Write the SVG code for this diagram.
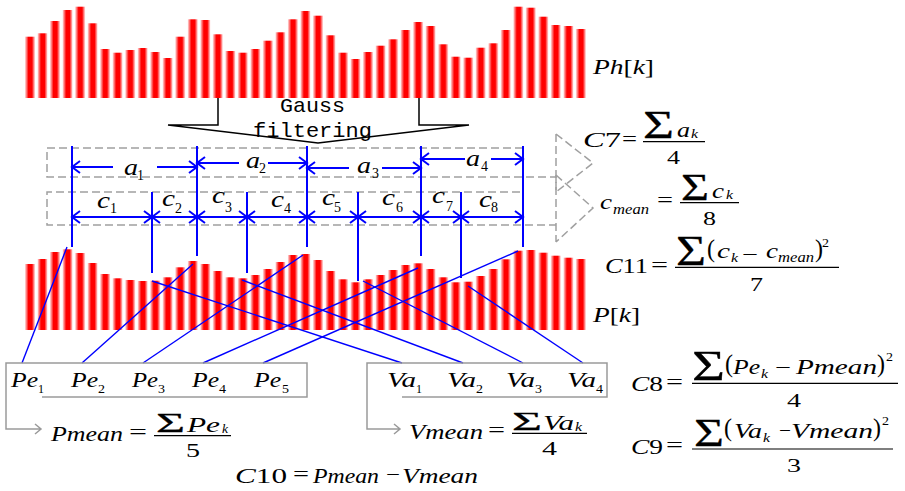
<svg xmlns="http://www.w3.org/2000/svg" width="905" height="491" viewBox="0 0 905 491">
<defs>
<linearGradient id="g" x1="0" y1="0" x2="1" y2="0">
<stop offset="0" stop-color="#ffe0e0"/>
<stop offset="0.35" stop-color="#ff0000"/>
<stop offset="0.7" stop-color="#ff0000"/>
<stop offset="1" stop-color="#ffe0e0"/>
</linearGradient>
</defs>
<style>
.bars rect { fill: url(#g); }
.bl { stroke:#0000ff; stroke-width:2; fill:none; }
.dg { stroke:#0000ff; stroke-width:1.4; fill:none; }
.gr { stroke:#9a9a9a; stroke-width:1.5; fill:none; }
.dash { stroke:#a0a0a0; stroke-width:1.5; fill:none; stroke-dasharray:8 4; }
.blk { stroke:#000; stroke-width:1.5; fill:none; }
.fl { stroke:#000; stroke-width:1.2; }
text { font-family:"Liberation Serif","Times New Roman",serif; fill:#000; }
.i { font-style:italic; }
.s { stroke:#000; stroke-width:0.3; }
.mono { font-family:"Liberation Mono","Courier New",monospace; }
</style>
<rect width="905" height="491" fill="#fff"/>

<g id="hist-top" class="bars">
<rect x="25" y="36.7" width="10" height="61.3"/><rect x="37.5" y="33.3" width="10" height="64.7"/><rect x="50" y="21" width="10" height="77"/><rect x="62.6" y="10" width="10" height="88"/><rect x="75.1" y="6.7" width="10" height="91.3"/><rect x="87.6" y="23.3" width="10" height="74.7"/><rect x="100.1" y="49" width="10" height="49"/><rect x="112.6" y="52.7" width="10" height="45.3"/><rect x="125.2" y="50" width="10" height="48"/><rect x="137.7" y="48" width="10" height="50"/><rect x="150.2" y="52" width="10" height="46"/><rect x="162.7" y="58" width="10" height="40"/><rect x="175.2" y="36.7" width="10" height="61.3"/><rect x="187.8" y="19.3" width="10" height="78.7"/><rect x="200.3" y="20" width="10" height="78"/><rect x="212.8" y="34.3" width="10" height="63.7"/><rect x="225.3" y="51" width="10" height="47"/><rect x="237.8" y="52.7" width="10" height="45.3"/><rect x="250.4" y="49" width="10" height="49"/><rect x="262.9" y="40.7" width="10" height="57.3"/><rect x="275.4" y="32.3" width="10" height="65.7"/><rect x="287.9" y="19.3" width="10" height="78.7"/><rect x="300.4" y="11" width="10" height="87"/><rect x="313" y="15.7" width="10" height="82.3"/><rect x="325.5" y="35.3" width="10" height="62.7"/><rect x="338" y="52.7" width="10" height="45.3"/><rect x="350.5" y="59" width="10" height="39"/><rect x="363" y="52" width="10" height="46"/><rect x="375.6" y="45.7" width="10" height="52.3"/><rect x="388.1" y="39.3" width="10" height="58.7"/><rect x="400.6" y="30" width="10" height="68"/><rect x="413.1" y="22" width="10" height="76"/><rect x="425.6" y="26" width="10" height="72"/><rect x="438.2" y="44.3" width="10" height="53.7"/><rect x="450.7" y="56.7" width="10" height="41.3"/><rect x="463.2" y="57.7" width="10" height="40.3"/><rect x="475.7" y="47.7" width="10" height="50.3"/><rect x="488.3" y="43.3" width="10" height="54.7"/><rect x="500.8" y="30" width="10" height="68"/><rect x="513.3" y="6.7" width="10" height="91.3"/><rect x="525.8" y="7.7" width="10" height="90.3"/><rect x="538.3" y="16.7" width="10" height="81.3"/><rect x="550.8" y="25" width="10" height="73"/><rect x="563.4" y="26" width="10" height="72"/><rect x="575.9" y="29" width="10" height="69"/>
</g>
<g id="label-ph">
<text x="593" y="74" font-size="22" textLength="61" lengthAdjust="spacingAndGlyphs"><tspan class="i">Ph</tspan>[<tspan class="i">k</tspan>]</text>
</g>

<g id="gauss">
<polyline class="blk" points="218,98 218,125 168,125 318,143 469,125 419,125 419,98"/>
<text class="mono" x="280" y="112" font-size="21" textLength="65" lengthAdjust="spacingAndGlyphs">Gauss</text>
<text class="mono" x="253" y="137" font-size="21" textLength="119" lengthAdjust="spacingAndGlyphs">filtering</text>
</g>

<g id="band-a">
<path class="dash" d="M523,148 H47 V177 H556"/>
<path class="dash" d="M556,134 V192 M556,134 L593,163 L556,192"/>
</g>
<g id="band-c">
<path class="dash" d="M520,192 H47 V225 H556"/>
<path class="dash" d="M556,175 V242 M556,175 L593,208 L556,242"/>
</g>

<g id="hist-bottom" class="bars">
<rect x="25" y="264" width="10" height="66"/><rect x="37.5" y="259" width="10" height="71"/><rect x="50" y="252" width="10" height="78"/><rect x="62.6" y="249.3" width="10" height="80.7"/><rect x="75.1" y="253" width="10" height="77"/><rect x="87.6" y="263" width="10" height="67"/><rect x="100.1" y="274" width="10" height="56"/><rect x="112.6" y="278.3" width="10" height="51.7"/><rect x="125.2" y="280" width="10" height="50"/><rect x="137.7" y="281" width="10" height="49"/><rect x="150.2" y="280.7" width="10" height="49.3"/><rect x="162.7" y="277.3" width="10" height="52.7"/><rect x="175.2" y="267.3" width="10" height="62.7"/><rect x="187.8" y="261" width="10" height="69"/><rect x="200.3" y="264" width="10" height="66"/><rect x="212.8" y="271" width="10" height="59"/><rect x="225.3" y="277.3" width="10" height="52.7"/><rect x="237.8" y="278.3" width="10" height="51.7"/><rect x="250.4" y="275" width="10" height="55"/><rect x="262.9" y="269" width="10" height="61"/><rect x="275.4" y="262" width="10" height="68"/><rect x="287.9" y="255" width="10" height="75"/><rect x="300.4" y="254" width="10" height="76"/><rect x="313" y="260" width="10" height="70"/><rect x="325.5" y="271" width="10" height="59"/><rect x="338" y="279.3" width="10" height="50.7"/><rect x="350.5" y="282.3" width="10" height="47.7"/><rect x="363" y="279.3" width="10" height="50.7"/><rect x="375.6" y="275" width="10" height="55"/><rect x="388.1" y="270" width="10" height="60"/><rect x="400.6" y="265" width="10" height="65"/><rect x="413.1" y="263.3" width="10" height="66.7"/><rect x="425.6" y="269" width="10" height="61"/><rect x="438.2" y="277.3" width="10" height="52.7"/><rect x="450.7" y="282.3" width="10" height="47.7"/><rect x="463.2" y="281.7" width="10" height="48.3"/><rect x="475.7" y="276" width="10" height="54"/><rect x="488.3" y="269" width="10" height="61"/><rect x="500.8" y="259.3" width="10" height="70.7"/><rect x="513.3" y="250.7" width="10" height="79.3"/><rect x="525.8" y="250" width="10" height="80"/><rect x="538.3" y="252.7" width="10" height="77.3"/><rect x="550.8" y="255.7" width="10" height="74.3"/><rect x="563.4" y="257.7" width="10" height="72.3"/><rect x="575.9" y="259" width="10" height="71"/>
</g>
<g id="label-p">
<text x="593" y="322" font-size="22" textLength="47" lengthAdjust="spacingAndGlyphs"><tspan class="i">P</tspan>[<tspan class="i">k</tspan>]</text>
</g>

<g id="connectors">
<path class="bl" d="M72,146 V247 M152,192 V273 M197,146 V256 M247,192 V273 M307,146 V247 M358,192 V281 M421,146 V256 M461,192 V278 M523,146 V247"/>
<path class="bl" d="M72,167 H113 M157,167 H197 M80,161 L72,167 L80,173 M189,161 L197,167 L189,173"/>
<path class="bl" d="M197,163 H239 M268,163 H307 M205,157 L197,163 L205,169 M299,157 L307,163 L299,169"/>
<path class="bl" d="M307,168 H349 M382,168 H421 M315,162 L307,168 L315,174 M413,162 L421,168 L413,174"/>
<path class="bl" d="M421,159 H465 M491,159 H523 M429,153 L421,159 L429,165 M515,153 L523,159 L515,165"/>
<path class="bl" d="M72,217 H523
M80,211 L72,217 L80,223
M144,211 L152,217 L144,223 M160,211 L152,217 L160,223
M189,211 L197,217 L189,223 M205,211 L197,217 L205,223
M239,211 L247,217 L239,223 M255,211 L247,217 L255,223
M299,211 L307,217 L299,223 M315,211 L307,217 L315,223
M350,211 L358,217 L350,223 M366,211 L358,217 L366,223
M413,211 L421,217 L413,223 M429,211 L421,217 L429,223
M453,211 L461,217 L453,223 M469,211 L461,217 L469,223
M515,211 L523,217 L515,223"/>
<line class="dg" x1="67" y1="247" x2="22" y2="363"/>
<line class="dg" x1="193" y1="264" x2="82" y2="363"/>
<line class="dg" x1="303" y1="255" x2="143" y2="363"/>
<line class="dg" x1="418" y1="268" x2="203" y2="363"/>
<line class="dg" x1="518" y1="251" x2="263" y2="363"/>
<line class="dg" x1="152" y1="281" x2="402" y2="363"/>
<line class="dg" x1="242" y1="280" x2="463" y2="363"/>
<line class="dg" x1="363" y1="281" x2="523" y2="363"/>
<line class="dg" x1="468" y1="286" x2="583" y2="363"/>
<path class="gr" d="M42,397 H307 V363 H6 V429 H41 M35,424 L41,429 L35,434"/>
<path class="gr" d="M402,397 H607 V363 H367 V429 H400 M394,424 L400,429 L394,434"/>
</g>

<g id="dim-labels">
<text class="i" x="124" y="175" font-size="24" textLength="14" lengthAdjust="spacingAndGlyphs">a</text><text x="137" y="180" font-size="14" textLength="7" lengthAdjust="spacingAndGlyphs">1</text>
<text class="i" x="246" y="168" font-size="24" textLength="14" lengthAdjust="spacingAndGlyphs">a</text><text x="259" y="173" font-size="14" textLength="7" lengthAdjust="spacingAndGlyphs">2</text>
<text class="i" x="357" y="173" font-size="24" textLength="14" lengthAdjust="spacingAndGlyphs">a</text><text x="372" y="178" font-size="14" textLength="7" lengthAdjust="spacingAndGlyphs">3</text>
<text class="i" x="466" y="166" font-size="24" textLength="14" lengthAdjust="spacingAndGlyphs">a</text><text x="481" y="171" font-size="14" textLength="7" lengthAdjust="spacingAndGlyphs">4</text>
<text class="i" x="97" y="208" font-size="24" textLength="13" lengthAdjust="spacingAndGlyphs">c</text><text x="110" y="213" font-size="14" textLength="7" lengthAdjust="spacingAndGlyphs">1</text>
<text class="i" x="162" y="206" font-size="24" textLength="13" lengthAdjust="spacingAndGlyphs">c</text><text x="175" y="213" font-size="14" textLength="7" lengthAdjust="spacingAndGlyphs">2</text>
<text class="i" x="212" y="203" font-size="24" textLength="13" lengthAdjust="spacingAndGlyphs">c</text><text x="225" y="212" font-size="14" textLength="7" lengthAdjust="spacingAndGlyphs">3</text>
<text class="i" x="271" y="207" font-size="24" textLength="13" lengthAdjust="spacingAndGlyphs">c</text><text x="284" y="213" font-size="14" textLength="7" lengthAdjust="spacingAndGlyphs">4</text>
<text class="i" x="322" y="205" font-size="24" textLength="13" lengthAdjust="spacingAndGlyphs">c</text><text x="334" y="212" font-size="14" textLength="7" lengthAdjust="spacingAndGlyphs">5</text>
<text class="i" x="382" y="205" font-size="24" textLength="13" lengthAdjust="spacingAndGlyphs">c</text><text x="396" y="212" font-size="14" textLength="7" lengthAdjust="spacingAndGlyphs">6</text>
<text class="i" x="432" y="203" font-size="24" textLength="13" lengthAdjust="spacingAndGlyphs">c</text><text x="446" y="211" font-size="14" textLength="7" lengthAdjust="spacingAndGlyphs">7</text>
<text class="i" x="479" y="207" font-size="24" textLength="13" lengthAdjust="spacingAndGlyphs">c</text><text x="491" y="212" font-size="14" textLength="7" lengthAdjust="spacingAndGlyphs">8</text>
</g>

<g id="pe-box">
<text class="i" x="11" y="387" font-size="21" textLength="27" lengthAdjust="spacingAndGlyphs">Pe</text><text x="38" y="393" font-size="13" textLength="6" lengthAdjust="spacingAndGlyphs">1</text>
<text class="i" x="71" y="387" font-size="21" textLength="27" lengthAdjust="spacingAndGlyphs">Pe</text><text x="98" y="393" font-size="13" textLength="7" lengthAdjust="spacingAndGlyphs">2</text>
<text class="i" x="132" y="387" font-size="21" textLength="26" lengthAdjust="spacingAndGlyphs">Pe</text><text x="158" y="393" font-size="13" textLength="7" lengthAdjust="spacingAndGlyphs">3</text>
<text class="i" x="192" y="387" font-size="21" textLength="27" lengthAdjust="spacingAndGlyphs">Pe</text><text x="219" y="393" font-size="13" textLength="7" lengthAdjust="spacingAndGlyphs">4</text>
<text class="i" x="254" y="387" font-size="21" textLength="27" lengthAdjust="spacingAndGlyphs">Pe</text><text x="282" y="393" font-size="13" textLength="7" lengthAdjust="spacingAndGlyphs">5</text>
</g>
<g id="va-box">
<text class="i" x="387" y="387" font-size="21" textLength="29" lengthAdjust="spacingAndGlyphs">Va</text><text x="416" y="393" font-size="13" textLength="6" lengthAdjust="spacingAndGlyphs">1</text>
<text class="i" x="447" y="387" font-size="21" textLength="29" lengthAdjust="spacingAndGlyphs">Va</text><text x="476" y="393" font-size="13" textLength="7" lengthAdjust="spacingAndGlyphs">2</text>
<text class="i" x="506" y="387" font-size="21" textLength="29" lengthAdjust="spacingAndGlyphs">Va</text><text x="535" y="393" font-size="13" textLength="7" lengthAdjust="spacingAndGlyphs">3</text>
<text class="i" x="567" y="387" font-size="21" textLength="29" lengthAdjust="spacingAndGlyphs">Va</text><text x="596" y="393" font-size="13" textLength="7" lengthAdjust="spacingAndGlyphs">4</text>
</g>

<g id="f-c7">
<text x="583" y="147" font-size="20" textLength="38" lengthAdjust="spacingAndGlyphs"><tspan class="i">C</tspan>7</text>
<text x="622" y="146" font-size="20" textLength="15" lengthAdjust="spacingAndGlyphs">=</text>
<text class="s" x="643" y="138" font-size="39" textLength="31" lengthAdjust="spacingAndGlyphs">Σ</text>
<text class="i" x="677" y="137" font-size="21" textLength="13" lengthAdjust="spacingAndGlyphs">a</text>
<text class="i" x="691" y="138" font-size="13" textLength="7" lengthAdjust="spacingAndGlyphs">k</text>
<line class="fl" x1="643" y1="141.7" x2="705" y2="141.7"/>
<text x="667" y="164" font-size="18" textLength="13" lengthAdjust="spacingAndGlyphs">4</text>
</g>

<g id="f-cmean">
<text class="i" x="600" y="209" font-size="22" textLength="12" lengthAdjust="spacingAndGlyphs">c</text>
<text class="i" x="613" y="214" font-size="14" textLength="36" lengthAdjust="spacingAndGlyphs">mean</text>
<text x="657" y="207" font-size="20" textLength="16" lengthAdjust="spacingAndGlyphs">=</text>
<text class="s" x="681" y="200" font-size="38" textLength="28" lengthAdjust="spacingAndGlyphs">Σ</text>
<text class="i" x="712" y="198" font-size="22" textLength="12" lengthAdjust="spacingAndGlyphs">c</text>
<text class="i" x="726" y="199" font-size="13" textLength="7" lengthAdjust="spacingAndGlyphs">k</text>
<line class="fl" x1="680" y1="202.7" x2="739" y2="202.7"/>
<text x="703" y="225" font-size="18" textLength="13" lengthAdjust="spacingAndGlyphs">8</text>
</g>

<g id="f-c11">
<text x="605" y="273" font-size="20" textLength="43" lengthAdjust="spacingAndGlyphs"><tspan class="i">C</tspan>11</text>
<text x="651" y="272" font-size="20" textLength="17" lengthAdjust="spacingAndGlyphs">=</text>
<text class="s" x="676" y="265" font-size="42" textLength="30" lengthAdjust="spacingAndGlyphs">Σ</text>
<text x="707" y="257" font-size="25" textLength="8" lengthAdjust="spacingAndGlyphs">(</text>
<text class="i" x="717" y="258" font-size="22" textLength="13" lengthAdjust="spacingAndGlyphs">c</text>
<text class="i" x="731" y="262" font-size="13" textLength="7" lengthAdjust="spacingAndGlyphs">k</text>
<text x="742" y="261" font-size="20" textLength="16" lengthAdjust="spacingAndGlyphs">−</text>
<text class="i" x="766" y="258" font-size="22" textLength="12" lengthAdjust="spacingAndGlyphs">c</text>
<text class="i" x="778" y="262" font-size="14" textLength="36" lengthAdjust="spacingAndGlyphs">mean</text>
<text x="815" y="257" font-size="25" textLength="8" lengthAdjust="spacingAndGlyphs">)</text>
<text x="822" y="247" font-size="13" textLength="7" lengthAdjust="spacingAndGlyphs">2</text>
<line class="fl" x1="675" y1="267.3" x2="839" y2="267.3"/>
<text x="750" y="291" font-size="18" textLength="13" lengthAdjust="spacingAndGlyphs">7</text>
</g>

<g id="f-c8">
<text x="631" y="391" font-size="20" textLength="32" lengthAdjust="spacingAndGlyphs"><tspan class="i">C</tspan>8</text>
<text x="666" y="389" font-size="20" textLength="17" lengthAdjust="spacingAndGlyphs">=</text>
<text class="s" x="692" y="380" font-size="42" textLength="33" lengthAdjust="spacingAndGlyphs">Σ</text>
<text x="725" y="372" font-size="25" textLength="8" lengthAdjust="spacingAndGlyphs">(</text>
<text class="i" x="733" y="374" font-size="21" textLength="27" lengthAdjust="spacingAndGlyphs">Pe</text>
<text class="i" x="761" y="378" font-size="13" textLength="7" lengthAdjust="spacingAndGlyphs">k</text>
<text x="775" y="374" font-size="20" textLength="16" lengthAdjust="spacingAndGlyphs">−</text>
<text class="i" x="796" y="374" font-size="21" textLength="81" lengthAdjust="spacingAndGlyphs">Pmean</text>
<text x="877" y="372" font-size="25" textLength="8" lengthAdjust="spacingAndGlyphs">)</text>
<text x="886" y="361" font-size="13" textLength="7" lengthAdjust="spacingAndGlyphs">2</text>
<line class="fl" x1="692" y1="383.3" x2="898" y2="383.3"/>
<text x="787" y="407" font-size="18" textLength="14" lengthAdjust="spacingAndGlyphs">4</text>
</g>

<g id="f-c9">
<text x="631" y="454" font-size="20" textLength="32" lengthAdjust="spacingAndGlyphs"><tspan class="i">C</tspan>9</text>
<text x="666" y="452" font-size="20" textLength="17" lengthAdjust="spacingAndGlyphs">=</text>
<text class="s" x="694" y="446" font-size="41" textLength="30" lengthAdjust="spacingAndGlyphs">Σ</text>
<text x="724" y="436" font-size="25" textLength="8" lengthAdjust="spacingAndGlyphs">(</text>
<text class="i" x="734" y="438" font-size="21" textLength="28" lengthAdjust="spacingAndGlyphs">Va</text>
<text class="i" x="763" y="442" font-size="13" textLength="7" lengthAdjust="spacingAndGlyphs">k</text>
<text x="779" y="437" font-size="20" textLength="12" lengthAdjust="spacingAndGlyphs">−</text>
<text class="i" x="791" y="438" font-size="21" textLength="82" lengthAdjust="spacingAndGlyphs">Vmean</text>
<text x="873" y="436" font-size="25" textLength="8" lengthAdjust="spacingAndGlyphs">)</text>
<text x="882" y="425" font-size="13" textLength="7" lengthAdjust="spacingAndGlyphs">2</text>
<line class="fl" x1="692" y1="449" x2="893" y2="449"/>
<text x="787" y="472" font-size="18" textLength="14" lengthAdjust="spacingAndGlyphs">3</text>
</g>

<g id="f-pmean">
<text class="i" x="51" y="441" font-size="20" textLength="72" lengthAdjust="spacingAndGlyphs">Pmean</text>
<text x="129" y="439" font-size="20" textLength="18" lengthAdjust="spacingAndGlyphs">=</text>
<text class="s" x="156" y="432" font-size="28" textLength="29" lengthAdjust="spacingAndGlyphs">Σ</text>
<text class="i" x="187" y="432" font-size="20" textLength="33" lengthAdjust="spacingAndGlyphs">Pe</text>
<text class="i" x="222" y="433" font-size="12" textLength="6" lengthAdjust="spacingAndGlyphs">k</text>
<line class="fl" x1="154" y1="435.7" x2="231" y2="435.7"/>
<text x="186" y="457" font-size="18" textLength="14" lengthAdjust="spacingAndGlyphs">5</text>
</g>

<g id="f-vmean">
<text class="i" x="409" y="439" font-size="20" textLength="74" lengthAdjust="spacingAndGlyphs">Vmean</text>
<text x="488" y="437" font-size="20" textLength="17" lengthAdjust="spacingAndGlyphs">=</text>
<text class="s" x="512" y="430" font-size="26" textLength="30" lengthAdjust="spacingAndGlyphs">Σ</text>
<text class="i" x="543" y="430" font-size="20" textLength="31" lengthAdjust="spacingAndGlyphs">Va</text>
<text class="i" x="575" y="431" font-size="12" textLength="7" lengthAdjust="spacingAndGlyphs">k</text>
<line class="fl" x1="512" y1="433.3" x2="587" y2="433.3"/>
<text x="542" y="455" font-size="18" textLength="15" lengthAdjust="spacingAndGlyphs">4</text>
</g>

<g id="f-c10">
<text x="235" y="483" font-size="20" textLength="52" lengthAdjust="spacingAndGlyphs"><tspan class="i">C</tspan>10</text>
<text x="293" y="481" font-size="20" textLength="16" lengthAdjust="spacingAndGlyphs">=</text>
<text class="i" x="313" y="483" font-size="20" textLength="66" lengthAdjust="spacingAndGlyphs">Pmean</text>
<text x="386" y="481" font-size="20" textLength="14" lengthAdjust="spacingAndGlyphs">−</text>
<text class="i" x="402" y="483" font-size="20" textLength="76" lengthAdjust="spacingAndGlyphs">Vmean</text>
</g>
</svg>
